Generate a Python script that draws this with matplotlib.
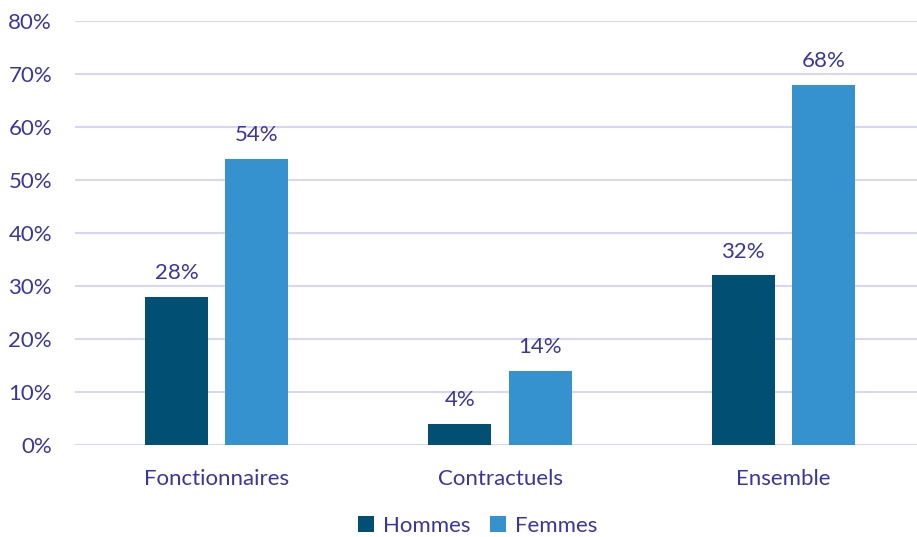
import matplotlib.pyplot as plt
import numpy as np

categories = ["Fonctionnaires", "Contractuels", "Ensemble"]
hommes = [28, 4, 32]
femmes = [54, 14, 68]
yticks = [0, 10, 20, 30, 40, 50, 60, 70, 80]

TEXT = "#3a369e"
DARK = "#014f73"
LIGHT = "#3692cf"
GRID = "#d9d6f2"
FS = 16

plt.rcParams['font.family'] = ['Lato', 'DejaVu Sans']

fig = plt.figure(figsize=(9.17, 5.37), dpi=100)
ax = fig.add_axes([75 / 917, 1 - 445 / 537, 850 / 917, 424 / 537])

x = np.arange(len(categories))
w = 0.223
off = 0.142
b1 = ax.bar(x - off, hommes, w, color=DARK, label="Hommes", zorder=3)
b2 = ax.bar(x + off, femmes, w, color=LIGHT, label="Femmes", zorder=3)

# value labels above each bar
for bars, vals in ((b1, hommes), (b2, femmes)):
    for r, v in zip(bars, vals):
        ax.text(r.get_x() + r.get_width() / 2, v + 2.6, f"{v}%",
                ha="center", va="bottom", fontsize=FS, color=TEXT)

ax.set_xlim(-0.5, 2.5)
ax.set_ylim(0, 80)
ax.set_yticks(yticks)
ax.set_yticklabels([f"{t}%" for t in yticks])
ax.set_xticks(x)
ax.set_xticklabels(categories)
ax.tick_params(axis="both", length=0, labelsize=FS, colors=TEXT)
ax.tick_params(axis="y", pad=16.5)
ax.tick_params(axis="x", pad=17)
ax.grid(axis="y", color=GRID, linewidth=1.5, zorder=0)
for s in ax.spines.values():
    s.set_visible(False)

fig.legend(loc="center", bbox_to_anchor=(477.5 / 917, 1 - 526 / 537), ncol=2, frameon=False,
           fontsize=FS, labelcolor=TEXT, handlelength=0.7, handleheight=0.7,
           handletextpad=0.4, columnspacing=0.9, borderpad=0.2)

fig.savefig("out.png", dpi=100)
